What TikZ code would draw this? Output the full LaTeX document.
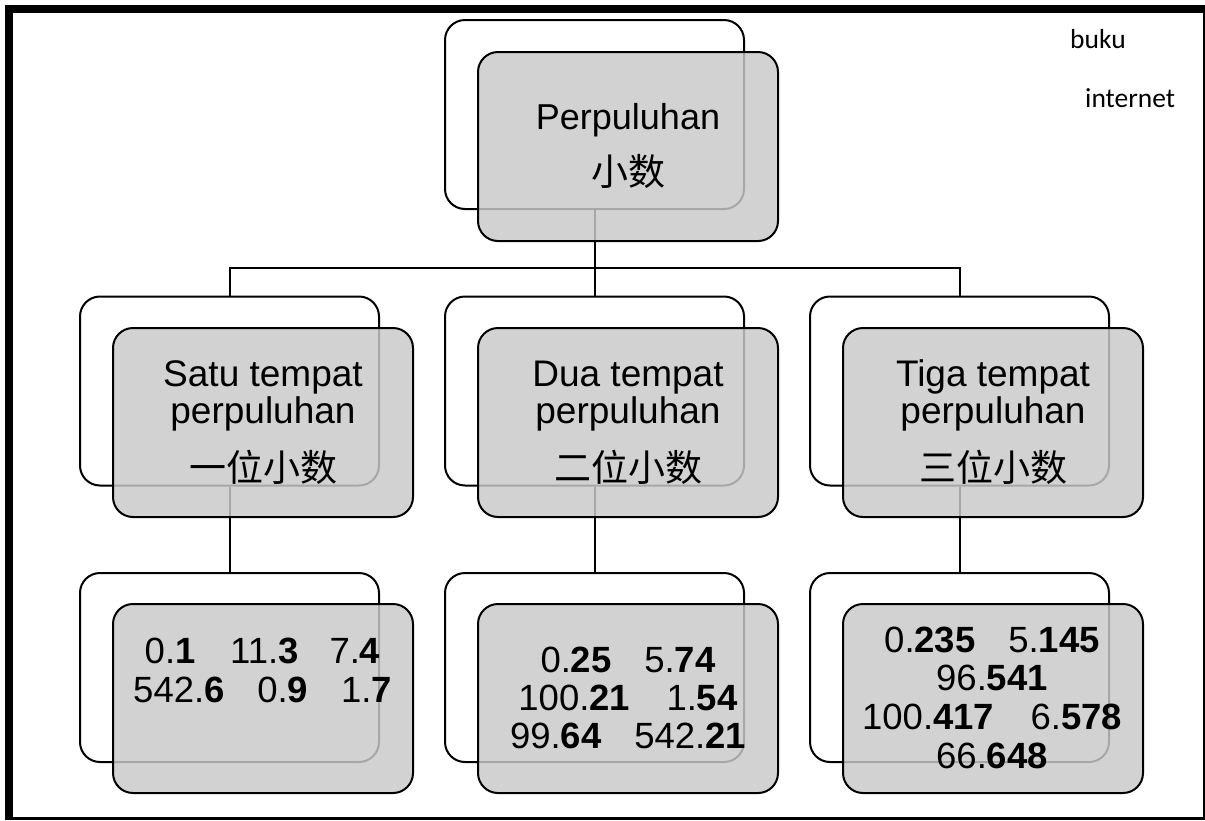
\documentclass[tikz,border=0pt]{standalone}
\usepackage{fontspec}
\setmainfont{Liberation Sans}
\newfontfamily\cjkfont{Noto Sans CJK SC}
\newfontfamily\notefont{Carlito}
\begin{document}
\begin{tikzpicture}[x=1pt,y=-1pt,
  backbox/.style={draw=black, line width=2, rounded corners=20, fill=white,
    minimum width=299, minimum height=189, inner sep=0},
  frontbox/.style={draw=black, line width=2, rounded corners=20, fill=black!21,
    fill opacity=0.83, minimum width=300, minimum height=189, inner sep=0},
  link/.style={draw=black, line width=2},
  title/.style={inner sep=0, anchor=base, font=\fontsize{36}{36}\selectfont},
  head/.style={inner sep=0, anchor=base, font=\fontsize{37}{37}\selectfont},
  hanzi/.style={inner sep=0, anchor=base, font=\cjkfont\fontsize{37}{37}\selectfont},
  nums/.style={inner sep=0, anchor=base, font=\fontsize{36.5}{36.5}\selectfont},
  note/.style={inner sep=0, anchor=base west, font=\notefont\fontsize{27.5}{27.5}\selectfont}]
\useasboundingbox (0,0) rectangle (1205,820);

% page frame: heavy top and left edges, thin right and bottom edges
\fill[black] (5,5) rectangle (1205,13);
\fill[black] (5,5) rectangle (13,820);
\fill[black] (1203,13) rectangle (1205,820);
\fill[black] (13,816.5) rectangle (1205,820);

% outlined boxes behind each shaded box
\node[backbox] (topB) at (594.5,114.5) {};
\node[backbox] (m1B) at (229.5,391) {};
\node[backbox] (m2B) at (594.5,391) {};
\node[backbox] (m3B) at (959.5,391) {};
\node[backbox] (b1B) at (229.5,667.5) {};
\node[backbox] (b2B) at (594.5,667.5) {};
\node[backbox] (b3B) at (959.5,667.5) {};

% tree connectors
\coordinate (bus) at (594.5,268);
\draw[link] (topB.south) -- (m2B.north);
\draw[link] (m1B.north) |- (bus) -| (m3B.north);
\draw[link] (m1B.south) -- (b1B.north);
\draw[link] (m2B.south) -- (b2B.north);
\draw[link] (m3B.south) -- (b3B.north);

% shaded, see-through boxes in front
\node[frontbox] (topF) at (628,146.5) {};
\node[frontbox] (m1F) at (263,422.5) {};
\node[frontbox] (m2F) at (628,422.5) {};
\node[frontbox] (m3F) at (993,422.5) {};
\node[frontbox] (b1F) at (263,698.5) {};
\node[frontbox] (b2F) at (628,698.5) {};
\node[frontbox] (b3F) at (993,698.5) {};

% top box text
\node[title] (topT) at (628,129) {Perpuluhan};
\node[hanzi] (topH) at (628,185) {小数};

% second row text
\node[head] (m1a) at (263,386) {Satu tempat};
\node[head] (m1b) at (263,423) {perpuluhan};
\node[hanzi] (m1c) at (263,481) {一位小数};
\node[head] (m2a) at (628,386) {Dua tempat};
\node[head] (m2b) at (628,423) {perpuluhan};
\node[hanzi] (m2c) at (628,481) {二位小数};
\node[head] (m3a) at (993,386) {Tiga tempat};
\node[head] (m3b) at (993,423) {perpuluhan};
\node[hanzi] (m3c) at (993,481) {三位小数};

% examples
\node[nums] (b1l1) at (262.5,663) {0.\textbf{1}\hspace{0.95em}11.\textbf{3}\hspace{0.85em}7.\textbf{4}};
\node[nums] (b1l2) at (262.5,702) {542.\textbf{6}\hspace{0.9em}0.\textbf{9}\hspace{0.9em}1.\textbf{7}};

\node[nums] (b2l1) at (628,672) {0.\textbf{25}\hspace{0.9em}5.\textbf{74}};
\node[nums] (b2l2) at (628,710) {100.\textbf{21}\hspace{1em}1.\textbf{54}};
\node[nums] (b2l3) at (628,748) {99.\textbf{64}\hspace{0.9em}542.\textbf{21}};

\node[nums] (b3l1) at (992,652) {0.\textbf{235}\hspace{0.9em}5.\textbf{145}};
\node[nums] (b3l2) at (992,690) {96.\textbf{541}};
\node[nums] (b3l3) at (992,729) {100.\textbf{417}\hspace{1em}6.\textbf{578}};
\node[nums] (b3l4) at (992,768) {66.\textbf{648}};

% side notes
\node[note] (n1) at (1070,48) {buku};
\node[note] (n2) at (1085,107) {internet};
\end{tikzpicture}
\end{document}
